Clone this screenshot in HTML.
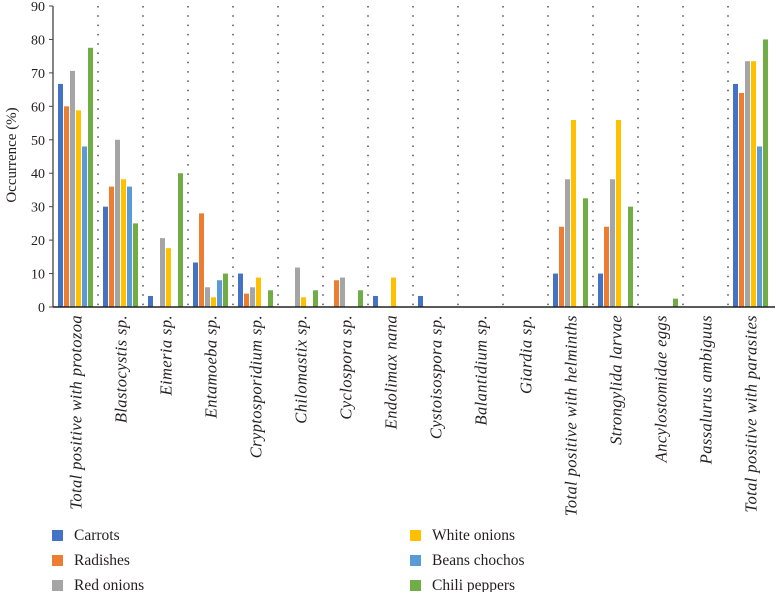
<!DOCTYPE html>
<html><head><meta charset="utf-8"><style>
body{margin:0;background:#fff;}
svg text{font-family:"Liberation Serif",serif;fill:#231f20;}
</style></head><body>
<svg id="chart" width="776" height="592" xmlns="http://www.w3.org/2000/svg"></svg>
<script>
const categories=["Total positive with protozoa","Blastocystis sp.","Eimeria sp.","Entamoeba sp.","Cryptosporidium sp.","Chilomastix sp.","Cyclospora sp.","Endolimax nana","Cystoisospora sp.","Balantidium sp.","Giardia sp.","Total positive with helminths","Strongylida larvae","Ancylostomidae eggs","Passalurus ambiguus","Total positive with parasites"];
const seriesNames=["Carrots","Radishes","Red onions","White onions","Beans chochos","Chili peppers"];
const carrots=[66.7,30,3.3,13.3,10,0,0,3.3,3.3,0,0,10,10,0,0,66.7];
const radishes=[60,36,0,28,4,0,8,0,0,0,0,24,24,0,0,64];
const redOnions=[70.6,50,20.6,5.9,5.9,11.8,8.8,0,0,0,0,38.2,38.2,0,0,73.5];
const whiteOnions=[58.8,38.2,17.6,2.9,8.8,2.9,0,8.8,0,0,0,55.9,55.9,0,0,73.5];
const beansChochos=[48,36,0,8,0,0,0,0,0,0,0,0,0,0,0,48];
const chiliPeppers=[77.5,25,40,10,5,5,5,0,0,0,0,32.5,30,2.5,0,80];
const yTicks=[0,10,20,30,40,50,60,70,80,90];
const series=[carrots,radishes,redOnions,whiteOnions,beansChochos,chiliPeppers];
const colors=["#4472C4","#ED7D31","#A5A5A5","#FFC000","#5B9BD5","#70AD47"];
const NS="http://www.w3.org/2000/svg";
const svg=document.getElementById('chart');
const X0=53,CW=45,Y0=307,YT=6;
const y=v=>Y0-(v/90)*(Y0-YT);
const xc=i=>X0+i*CW;
function mk(t,a,p){const e=document.createElementNS(NS,t);for(const k in a)e.setAttribute(k,a[k]);(p||svg).appendChild(e);return e;}
for(let i=1;i<categories.length;i++){
 const l=mk('line',{x1:xc(i),x2:xc(i),y1:YT,y2:Y0,stroke:'#222','stroke-width':1.2,'stroke-dasharray':'1.5 7.8'});
 
 
}
yTicks.forEach(t=>{
 const tx=mk('text',{x:45,y:y(t)+5,'text-anchor':'end','font-size':14});
 tx.textContent=t;
 
 
 const tk=mk('line',{x1:49,x2:X0,y1:y(t),y2:y(t),stroke:'#444','stroke-width':1});
 
 
});
series.forEach((s,si)=>{
 s.forEach((v,ci)=>{
  if(v<=0)return;
  const r=mk('rect',{x:xc(ci)+5+si*6,y:y(v),width:5,height:Y0-y(v),fill:colors[si]});
  
  
 });
});
const ya=mk('line',{x1:X0,x2:X0,y1:YT,y2:Y0,stroke:'#444','stroke-width':1.3});


const xa=mk('line',{x1:X0,x2:775,y1:Y0,y2:Y0,stroke:'#222','stroke-width':1.5});


categories.forEach((c,i)=>{
 const cx=xc(i)+CW/2+6;
 const t=mk('text',{x:0,y:0,'text-anchor':'end','font-size':16.5,'font-style':'italic','letter-spacing':0.4,transform:`translate(${cx},315) rotate(-90)`});
 t.textContent=c;
 
 
});
const yt=mk('text',{x:0,y:0,'text-anchor':'middle','font-size':15,transform:'translate(16,155) rotate(-90)'});
yt.textContent='Occurrence (%)';


seriesNames.forEach((n,i)=>{
 const col=Math.floor(i/3),row=i%3;
 const lx=col?410:52, ly=530+row*25;
 const g=mk('g',{});
 
 
 mk('rect',{x:lx,y:ly,width:11,height:11,fill:colors[i]},g);
 const t=mk('text',{x:lx+22,y:ly+10,'font-size':15.5},g);
 t.textContent=n;
});
</script>
</body></html>
